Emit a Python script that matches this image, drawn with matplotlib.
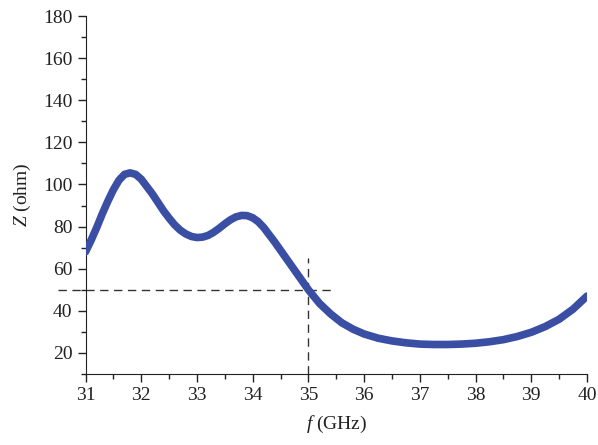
import matplotlib
matplotlib.use('Agg')
import matplotlib.pyplot as plt
from matplotlib.ticker import MultipleLocator

# frequency (GHz) and impedance (ohm)
freq = [31.0, 31.1, 31.2, 31.3, 31.4, 31.5, 31.6, 31.7, 31.8, 31.9, 32.0,
        32.1, 32.2, 32.3, 32.4, 32.5, 32.6, 32.7, 32.8, 32.9, 33.0, 33.1,
        33.2, 33.3, 33.4, 33.5, 33.6, 33.7, 33.8, 33.9, 34.0, 34.1, 34.2,
        34.3, 34.4, 34.6, 34.8, 35.0, 35.2, 35.4, 35.6, 35.8, 36.0, 36.25,
        36.5, 36.75, 37.0, 37.25, 37.5, 37.75, 38.0, 38.25, 38.5, 38.75,
        39.0, 39.25, 39.5, 39.75, 40.0]
imp = [68.0, 73.5, 79.5, 86.0, 92.0, 97.5, 102.0, 104.8, 105.5, 104.8, 102.5,
       99.0, 95.5, 91.5, 87.5, 84.0, 80.8, 78.3, 76.5, 75.3, 74.8, 75.0,
       75.8, 77.3, 79.2, 81.3, 83.2, 84.6, 85.3, 85.2, 84.2, 82.3, 79.5,
       76.0, 72.5, 65.0, 57.5, 50.0, 43.5, 38.5, 34.3, 31.3, 29.0, 27.0,
       25.7, 24.8, 24.2, 24.0, 24.0, 24.2, 24.6, 25.3, 26.3, 27.8, 29.8,
       32.5, 36.0, 40.8, 47.0]

plt.rcParams['font.family'] = 'Liberation Serif'
plt.rcParams['mathtext.fontset'] = 'custom'
plt.rcParams['mathtext.rm'] = 'Liberation Serif'
plt.rcParams['mathtext.it'] = 'Liberation Serif:italic'

fig = plt.figure(figsize=(5.98, 4.45), dpi=100)
ax = fig.add_axes([0.143, 0.1596, 0.8386, 0.8044])

ax.plot(freq, imp, color='#3a4fa3', lw=5.5, solid_capstyle='round', zorder=3)
# reference lines at Z = 50 ohm and f = 35 GHz
ax.plot([30.5, 35.45], [50, 50], color='#333333', lw=1, ls=(0, (6, 4)), clip_on=False)
ax.plot([35, 35], [10, 65], color='#333333', lw=1, ls=(0, (6, 4)), clip_on=False)

ax.set_xlim(31, 40)
ax.set_ylim(10, 180)
ax.xaxis.set_major_locator(MultipleLocator(1))
ax.xaxis.set_minor_locator(MultipleLocator(0.5))
ax.yaxis.set_minor_locator(MultipleLocator(10))
ax.set_yticks(range(20, 181, 20))
ax.tick_params(which='major', direction='out', length=6, width=1, labelsize=14,
               color='#222222', labelcolor='#222222')
ax.tick_params(which='minor', direction='out', length=3.5, width=1, color='#222222')
for s in ['top', 'right']:
    ax.spines[s].set_visible(False)
for s in ['left', 'bottom']:
    ax.spines[s].set_color('#222222')

ax.set_xlabel(r'$f$ (GHz)', fontsize=14, color='#222222', labelpad=7)
ax.set_ylabel(r'$Z$ (ohm)', fontsize=14, color='#222222', labelpad=7)

fig.savefig('out.png', dpi=100)
